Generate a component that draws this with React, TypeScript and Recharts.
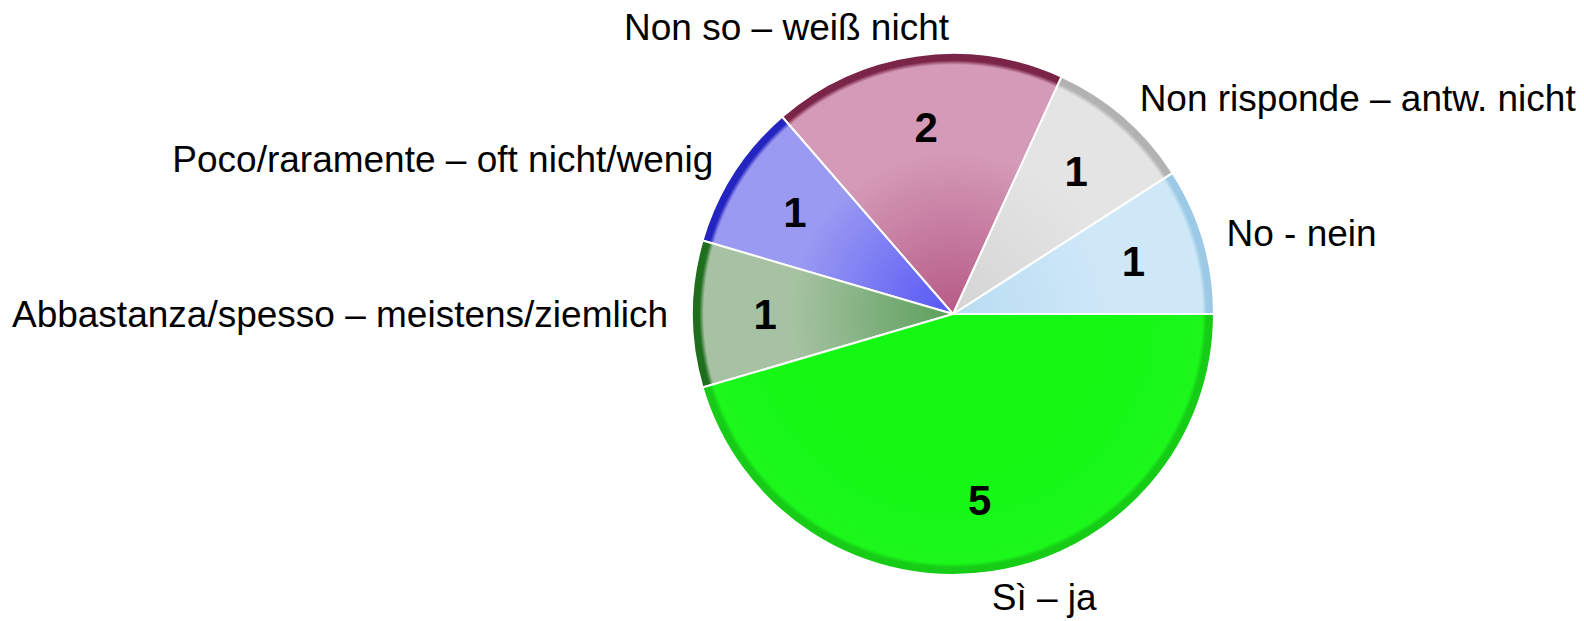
import React from 'react';
import { PieChart, Pie, Cell } from 'recharts';

const categories = [
  'No - nein',
  'Non risponde – antw. nicht',
  'Non so – weiß nicht',
  'Poco/raramente – oft nicht/wenig',
  'Abbastanza/spesso – meistens/ziemlich',
  'Sì – ja',
];
const counts = [1, 1, 2, 1, 1, 5];

// inner, body, rim colours per slice
const innerColors = ['#b9dcf2', '#d4d4d4', '#b65a86', '#5656f6', '#5a9f5a', '#14f814'];
const bodyColors = ['#cfe8f8', '#e4e4e4', '#d49ab7', '#9a9af2', '#a6c2a2', '#1cf71c'];
const rimColors = ['#9ccae6', '#b2b2b2', '#7a2448', '#2424c0', '#1e6e1e', '#16cc16'];

const data = categories.map((name, i) => ({ name, value: counts[i] }));

const W = 1584;
const H = 621;
const CX = 953;
const CY = 314;
const R = 261;
const RAD = Math.PI / 180;
const FONT = '"Liberation Sans", Arial, sans-serif';

const renderLabel = (props: any) => {
  const { cx, cy, midAngle, outerRadius, name, value } = props;
  const cos = Math.cos(-midAngle * RAD);
  const sin = Math.sin(-midAngle * RAD);
  const vr = outerRadius * 0.72;
  const top = sin < -0.9;
  const bottom = sin > 0.9;
  const lr = outerRadius + (top ? 16 : bottom ? 11 : 24);
  let lx = cx + lr * cos;
  const ly = cy + lr * sin;
  let anchor: 'start' | 'end' = cos >= 0 ? 'start' : 'end';
  if (top) {
    // top label sits left of the centre line
    lx = cx - 4;
    anchor = 'end';
  }
  const baseline = top ? 'auto' : bottom ? 'hanging' : 'central';
  return (
    <g>
      <text
        x={cx + vr * cos}
        y={cy + vr * sin}
        textAnchor="middle"
        dominantBaseline="central"
        fontFamily={FONT}
        fontWeight="bold"
        fontSize={42}
        fill="#000"
      >
        {value}
      </text>
      <text
        x={lx}
        y={ly}
        textAnchor={anchor}
        dominantBaseline={baseline}
        fontFamily={FONT}
        fontSize={37}
        fill="#000"
      >
        {name}
      </text>
    </g>
  );
};

export default function App() {
  return (
    <div style={{ position: 'absolute', left: 0, top: 0, width: W, height: H, background: '#fff' }}>
      <PieChart width={W} height={H} margin={{ top: 0, right: 0, bottom: 0, left: 0 }}>
        <defs>
          {categories.map((_, i) => (
            <radialGradient
              key={i}
              id={`slice${i}`}
              gradientUnits="userSpaceOnUse"
              cx={CX}
              cy={CY}
              r={R}
            >
              <stop offset="0" stopColor={innerColors[i]} />
              <stop offset="0.62" stopColor={i === 5 ? innerColors[i] : bodyColors[i]} />
              <stop offset="0.955" stopColor={bodyColors[i]} />
              <stop offset="0.972" stopColor={rimColors[i]} />
              <stop offset="1" stopColor={rimColors[i]} />
            </radialGradient>
          ))}
        </defs>
        <Pie
          data={data}
          dataKey="value"
          nameKey="name"
          cx={CX}
          cy={CY}
          outerRadius={R}
          startAngle={0}
          endAngle={360}
          stroke="#ffffff"
          strokeWidth={2}
          label={renderLabel}
          labelLine={false}
          isAnimationActive={false}
        >
          {data.map((_, i) => (
            <Cell key={i} fill={`url(#slice${i})`} />
          ))}
        </Pie>
      </PieChart>
    </div>
  );
}
